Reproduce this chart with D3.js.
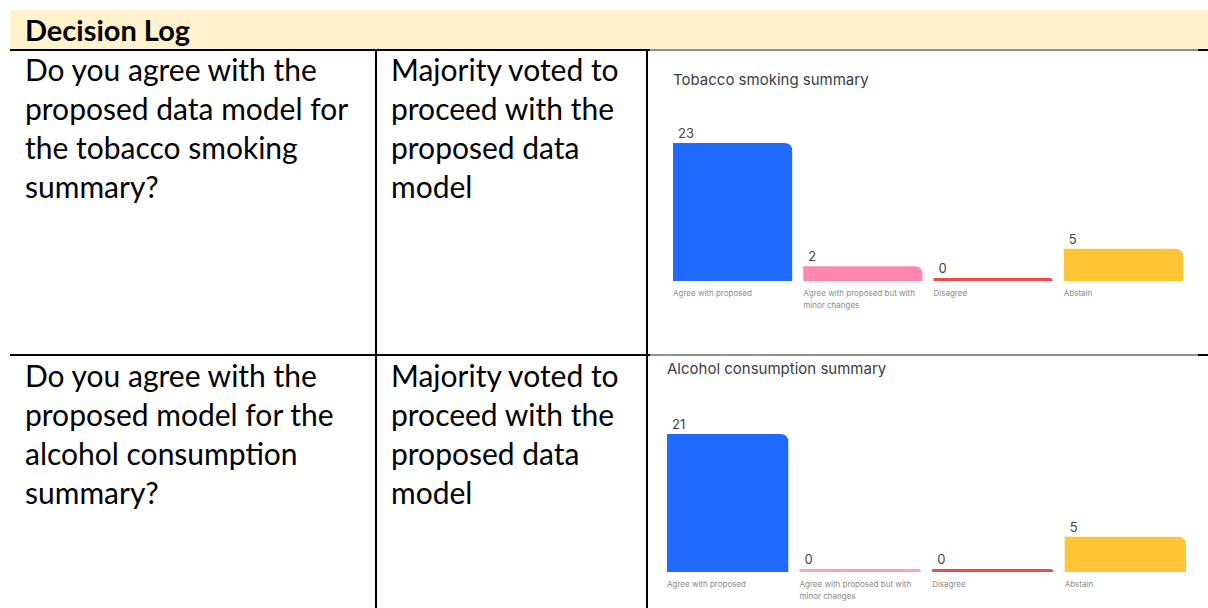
<!DOCTYPE html>
<html>
<head>
<meta charset="utf-8">
<script src="https://cdn.jsdelivr.net/npm/d3@7"></script>
<style>
  body { margin: 0; background: #fff; }
  svg { display: block; }
</style>
</head>
<body>
<div id="page"></div>
<script>
// table text
var headerText = "Decision Log";
var questions = [
  ["Do you agree with the", "proposed data model for", "the tobacco smoking", "summary?"],
  ["Do you agree with the", "proposed model for the", "alcohol consumption", "summary?"]
];
var decisions = [
  ["Majority voted to", "proceed with the", "proposed data", "model"],
  ["Majority voted to", "proceed with the", "proposed data", "model"]
];

// poll results
var categories = ["Agree with proposed", "Agree with proposed but with minor changes", "Disagree", "Abstain"];
var categoryLines = [["Agree with proposed"], ["Agree with proposed but with", "minor changes"], ["Disagree"], ["Abstain"]];
var chartTitles = ["Tobacco smoking summary", "Alcohol consumption summary"];
var tobaccoVotes = [23, 2, 0, 5];
var alcoholVotes = [21, 0, 0, 5];
var barColors = ["#1f6bff", "#ff86ad", "#ef4a4a", "#ffc537"];
var zeroColors = ["#1f6bff", "#f9a3c0", "#ef4a4a", "#ffc537"];

var width = 1208, height = 608;
var svg = d3.select("#page").append("svg")
  .attr("width", width)
  .attr("height", height);

var mainFont = "Lato, 'Open Sans', sans-serif";
var chartFont = "Inter, Roboto, sans-serif";

// header band
svg.append("rect")
  .attr("x", 10).attr("y", 10)
  .attr("width", width - 10).attr("height", 39)
  .attr("fill", "#fff2cc");

svg.append("text")
  .attr("x", 25).attr("y", 41)
  .attr("font-family", mainFont)
  .attr("font-size", 29)
  .attr("font-weight", "bold")
  .attr("fill", "#000")
  .text(headerText);

// grid lines
var rowTops = [50, 355];
rowTops.forEach(function(y) {
  svg.append("line").attr("x1", 10).attr("x2", 650).attr("y1", y).attr("y2", y)
    .attr("stroke", "#000").attr("stroke-width", 2);
  svg.append("line").attr("x1", 650).attr("x2", 1198).attr("y1", y).attr("y2", y)
    .attr("stroke", "#222").attr("stroke-width", 1);
  svg.append("line").attr("x1", 1198).attr("x2", 1208).attr("y1", y).attr("y2", y)
    .attr("stroke", "#000").attr("stroke-width", 2);
});
[376, 647].forEach(function(x) {
  svg.append("line").attr("x1", x).attr("x2", x).attr("y1", 50).attr("y2", height)
    .attr("stroke", "#000").attr("stroke-width", 2);
});

// cell text
var lineGap = 39;
var rowBase = [81, 387];
function cellText(lines, x, y0) {
  var t = svg.append("text")
    .attr("font-family", mainFont)
    .attr("font-size", 30)
    .attr("fill", "#000");
  lines.forEach(function(s, i) {
    t.append("tspan").attr("x", x).attr("y", y0 + i * lineGap).text(s);
  });
}
questions.forEach(function(q, i) { cellText(q, 25, rowBase[i]); });
decisions.forEach(function(d, i) { cellText(d, 391, rowBase[i]); });

// bar charts
var charts = [
  { title: chartTitles[0], votes: tobaccoVotes, x0: 673, x1: 1183, titleY: 85, top: 143, zero: 278, floor: 281, labelY: 296 },
  { title: chartTitles[1], votes: alcoholVotes, x0: 667, x1: 1186, titleY: 374, top: 434, zero: 569, floor: 572, labelY: 587 }
];

function topRoundedBar(x, y, w, h, r) {
  r = Math.min(r, h, w / 2);
  return "M" + x + "," + (y + h) +
    "V" + y +
    "H" + (x + w - r) +
    "Q" + (x + w) + "," + y + " " + (x + w) + "," + (y + r) +
    "V" + (y + h) + "Z";
}

charts.forEach(function(c) {
  var g = svg.append("g");

  var xScale = d3.scaleBand()
    .domain(categories)
    .range([c.x0, c.x1])
    .paddingInner(0.085)
    .paddingOuter(0);

  var yScale = d3.scaleLinear()
    .domain([0, d3.max(c.votes)])
    .range([c.zero, c.top]);

  g.append("text")
    .attr("x", c.x0).attr("y", c.titleY)
    .attr("font-family", chartFont)
    .attr("font-size", 15)
    .attr("fill", "#3b3b48")
    .text(c.title);

  var data = categories.map(function(cat, i) { return { cat: cat, v: c.votes[i], i: i }; });

  g.selectAll("path.bar")
    .data(data)
    .enter()
    .append("path")
    .attr("class", "bar")
    .attr("fill", function(d) { return d.v === 0 ? zeroColors[d.i] : barColors[d.i]; })
    .attr("d", function(d) {
      var y = yScale(d.v);
      return topRoundedBar(xScale(d.cat), y, xScale.bandwidth(), c.floor - y, 8);
    });

  g.selectAll("text.value")
    .data(data)
    .enter()
    .append("text")
    .attr("class", "value")
    .attr("x", function(d) { return xScale(d.cat) + 5; })
    .attr("y", function(d) { return yScale(d.v) - 5; })
    .attr("font-family", chartFont)
    .attr("font-size", 13)
    .attr("fill", "#444")
    .text(function(d) { return d.v; });

  g.selectAll("text.cat")
    .data(data)
    .enter()
    .append("text")
    .attr("class", "cat")
    .attr("font-family", chartFont)
    .attr("font-size", 8)
    .attr("fill", "#8a8a8a")
    .each(function(d) {
      var t = d3.select(this);
      categoryLines[d.i].forEach(function(s, k) {
        t.append("tspan")
          .attr("x", xScale(d.cat))
          .attr("y", c.labelY + k * 12)
          .text(s);
      });
    });
});
</script>
</body>
</html>
